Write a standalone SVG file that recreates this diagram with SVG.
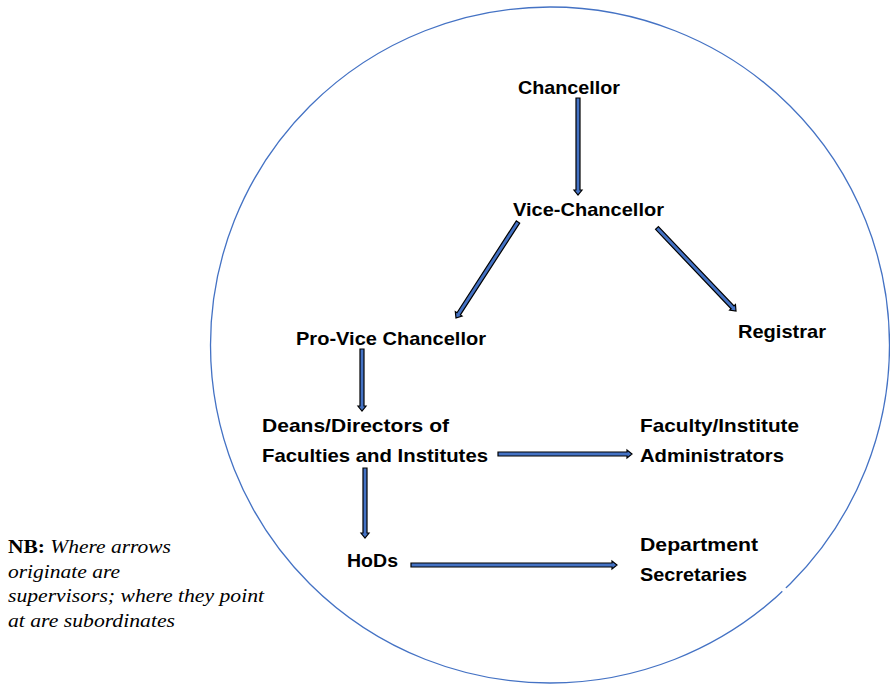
<svg xmlns="http://www.w3.org/2000/svg" width="890" height="685" viewBox="0 0 890 685">
<style>
.n{font-family:"Liberation Sans",Arial,sans-serif;font-weight:bold;font-size:19px;fill:#000}
.a{fill:#4472C4;stroke:#000;stroke-width:1.2;stroke-linejoin:miter}
.nb{font-family:"Liberation Serif","Times New Roman",serif;font-size:19px;fill:#000}
</style>
<rect width="890" height="685" fill="#fff"/>
<ellipse id="boundary" cx="550" cy="345" rx="339.5" ry="338" fill="none" stroke="#4472C4" stroke-width="1.3"/>
<line x1="782.5" y1="591.5" x2="786" y2="588" stroke="#fff" stroke-width="3"/>
<g id="connectors">
<g transform="translate(578,98) rotate(90)"><path class="a" d="M0,-2H92V-4L97,0L92,4V2H0Z"/></g>
<g transform="translate(518,222) rotate(122.86)"><path class="a" d="M0,-2H109.3V-4L114.3,0L109.3,4V2H0Z"/></g>
<g transform="translate(657,228) rotate(46.42)"><path class="a" d="M0,-2H109.6V-4L114.6,0L109.6,4V2H0Z"/></g>
<g transform="translate(362,349) rotate(90)"><path class="a" d="M0,-2H57V-4L62,0L57,4V2H0Z"/></g>
<g transform="translate(498,454)"><path class="a" d="M0,-2H129V-4L134,0L129,4V2H0Z"/></g>
<g transform="translate(365,468) rotate(90)"><path class="a" d="M0,-2H65V-4L70,0L65,4V2H0Z"/></g>
<g transform="translate(411,565)"><path class="a" d="M0,-2H201V-4L206,0L201,4V2H0Z"/></g>
</g>
<g id="chancellor"><text class="n" x="518" y="94" textLength="102" lengthAdjust="spacingAndGlyphs">Chancellor</text></g>
<g id="vice-chancellor"><text class="n" x="513" y="216" textLength="151" lengthAdjust="spacingAndGlyphs">Vice-Chancellor</text></g>
<g id="pro-vice-chancellor"><text class="n" x="296" y="345" textLength="190" lengthAdjust="spacingAndGlyphs">Pro-Vice Chancellor</text></g>
<g id="registrar"><text class="n" x="738" y="338" textLength="88" lengthAdjust="spacingAndGlyphs">Registrar</text></g>
<g id="deans">
<text class="n" x="262" y="432" textLength="187" lengthAdjust="spacingAndGlyphs">Deans/Directors of</text>
<text class="n" x="262" y="462" textLength="226" lengthAdjust="spacingAndGlyphs">Faculties and Institutes</text>
</g>
<g id="faculty-admin">
<text class="n" x="640" y="432" textLength="159" lengthAdjust="spacingAndGlyphs">Faculty/Institute</text>
<text class="n" x="640" y="462" textLength="144" lengthAdjust="spacingAndGlyphs">Administrators</text>
</g>
<g id="hods"><text class="n" x="347" y="567" textLength="51" lengthAdjust="spacingAndGlyphs">HoDs</text></g>
<g id="dept-secretaries">
<text class="n" x="640" y="551" textLength="118" lengthAdjust="spacingAndGlyphs">Department</text>
<text class="n" x="640" y="581" textLength="107" lengthAdjust="spacingAndGlyphs">Secretaries</text>
</g>
<g id="note">
<text class="nb" x="8" y="553" textLength="163" lengthAdjust="spacingAndGlyphs"><tspan font-weight="bold" font-style="normal">NB:</tspan><tspan font-style="italic"> Where arrows</tspan></text>
<text class="nb" x="8" y="578" font-style="italic" textLength="112" lengthAdjust="spacingAndGlyphs">originate are</text>
<text class="nb" x="8" y="602" font-style="italic" textLength="256" lengthAdjust="spacingAndGlyphs">supervisors; where they point</text>
<text class="nb" x="8" y="627" font-style="italic" textLength="167" lengthAdjust="spacingAndGlyphs">at are subordinates</text>
</g>
</svg>
